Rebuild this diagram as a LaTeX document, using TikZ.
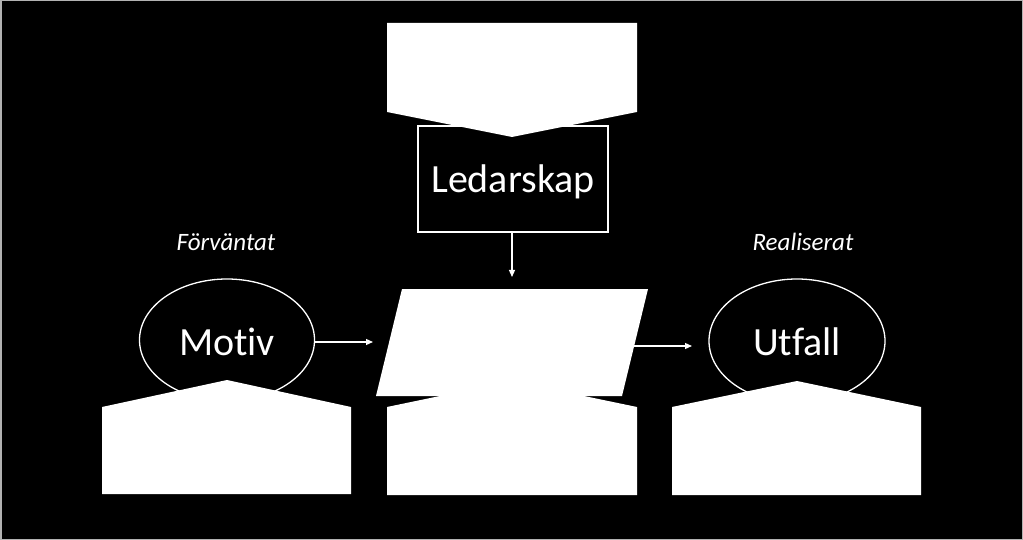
\documentclass[tikz,border=0pt]{standalone}
\usepackage{fontspec}
\setmainfont{Carlito}[Ligatures={NoCommon}]
\usetikzlibrary{shapes.geometric,arrows.meta}
\begin{document}
\begin{tikzpicture}[x=1pt,y=-1pt,
  outline/.style={draw=white,line width=1.3pt,fill=black,inner sep=0pt},
  bigtext/.style={text=white,font=\fontsize{40}{48}\selectfont,inner sep=0pt,anchor=base},
  smalltext/.style={text=white,font=\itshape\fontsize{25}{30}\selectfont,inner sep=0pt,anchor=base},
  arr/.style={draw=white,line width=1.2pt,-{Triangle[length=7pt,width=6pt]}},
  whiteshape/.style={fill=white}]
\fill[black] (0,0) rectangle (1023,540);
\useasboundingbox (0,0) rectangle (1023,540);
\draw[gray!60,line width=1.5pt] (0.75,0.75) rectangle (1022.25,539.25);

% ellipses
\node[outline,ellipse,minimum width=175pt,minimum height=122pt] (motiv) at (227,340) {};
\node[outline,ellipse,minimum width=176pt,minimum height=124pt] (utfall) at (797,341) {};
\node[bigtext] (motivt) at (227,355) {Motiv};
\node[bigtext] (utfallt) at (797,355) {Utfall};
\node[smalltext] (forv) at (226,251) {Förväntat};
\node[smalltext] (real) at (803,251) {Realiserat};

% houses (pentagons pointing up)
\fill[whiteshape] (102,494) -- (102,407) -- (227,380) -- (351,407) -- (351,494) -- cycle;
\fill[whiteshape] (387,495) -- (387,407) -- (512,381) -- (637,407) -- (637,495) -- cycle;
\fill[whiteshape] (672,495) -- (672,407) -- (797,381) -- (921,407) -- (921,495) -- cycle;

% parallelogram
\coordinate (ptl) at (402,289);
\coordinate (ptr) at (648,289);
\coordinate (pbr) at (622,396);
\coordinate (pbl) at (376,396);
\fill[whiteshape] (ptl) -- (ptr) -- (pbr) -- (pbl) -- cycle;

% Ledarskap box and top chevron
\node[outline,minimum width=190pt,minimum height=106pt] (led) at (513,179) {};
\node[bigtext] (ledt) at (513,193) {Ledarskap};
\fill[whiteshape] (387,23) -- (637,23) -- (637,112) -- (512,137) -- (387,112) -- cycle;

% connectors
\coordinate (ptop) at (512,277);
\coordinate (pleft) at (373,342);
\coordinate (pright) at (633,346);
\coordinate (uin) at (692,346);
\draw[arr] (led.south -| ptop) -- (ptop);
\draw[arr] (motiv.east |- pleft) -- (pleft);
\draw[arr] (pright) -- (uin);
\end{tikzpicture}
\end{document}
